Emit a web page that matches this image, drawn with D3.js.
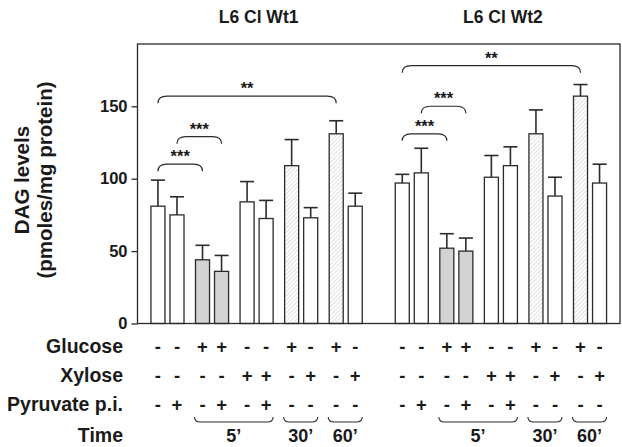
<!DOCTYPE html>
<html>
<head>
<meta charset="utf-8">
<script src="https://cdn.jsdelivr.net/npm/d3@7"></script>
<style>
  body { margin: 0; background: #fff; }
  svg { font-family: "Liberation Sans", Arial, sans-serif; }
</style>
</head>
<body>
<svg id="chart" width="622" height="447"></svg>
<script>
// data
const groups = ["L6 Cl Wt1", "L6 Cl Wt2"];
const glucose  = ["-", "-", "+", "+", "-", "-", "+", "-", "+", "-"];
const xylose   = ["-", "-", "-", "-", "+", "+", "-", "+", "-", "+"];
const pyruvate = ["-", "+", "-", "+", "-", "+", "-", "-", "-", "-"];
const time     = ["0", "0", "5", "5", "5", "5", "30", "30", "60", "60"];
const timeSpans = [
  { label: "5\u2019", from: 2, to: 5 },
  { label: "30\u2019", from: 6, to: 7 },
  { label: "60\u2019", from: 8, to: 9 }
];
const wt1Means = [81, 75, 44, 36, 84, 72.5, 109, 73, 131, 81];
const wt1Sem   = [18, 12.5, 10, 11, 14, 12.5, 18, 7, 9, 9];
const wt2Means = [97, 104, 52, 50, 101, 109, 131, 88, 157, 97];
const wt2Sem   = [6, 17, 10, 9, 15, 13, 16.5, 13, 8, 13];
const yTicks = [0, 50, 100, 150];
// significance brackets: group, bar from, bar to, level (in DAG units)
const sigGroup = [0, 0, 0, 1, 1, 1];
const sigFrom  = [0, 0, 1, 0, 0, 1];
const sigTo    = [8, 2, 3, 8, 2, 3];
const sigLevel = [157, 110, 129, 178, 131, 150];
const sigLabel = ["**", "***", "***", "**", "***", "***"];

const means = [wt1Means, wt2Means];
const sems = [wt1Sem, wt2Sem];

const svg = d3.select("#chart");
const dark = "#2b2b2b";
const ink = "#1a1a1a";

const x0 = 137.5, x1 = 620, yTop = 44, yBot = 323.5;

const y = d3.scaleLinear().domain([0, 193]).range([yBot, yTop]);

const xGroup = d3.scaleBand().domain(groups).range([x0, x1])
  .paddingInner(0.135).paddingOuter(0.055);
const xPair = d3.scaleBand().domain(d3.range(5)).range([0, xGroup.bandwidth()])
  .paddingInner(0.258).paddingOuter(0);
const xBar = d3.scaleBand().domain([0, 1]).range([0, xPair.bandwidth()])
  .paddingInner(0.263).paddingOuter(0);

const barX = (g, i) => xGroup(groups[g]) + xPair(Math.floor(i / 2)) + xBar(i % 2);
const barW = xBar.bandwidth();
const barC = (g, i) => barX(g, i) + barW / 2;

// hatch pattern
const defs = svg.append("defs");
const pat = defs.append("pattern")
  .attr("id", "hatch")
  .attr("patternUnits", "userSpaceOnUse")
  .attr("width", 3).attr("height", 3)
  .attr("patternTransform", "rotate(45)");
pat.append("rect").attr("width", 3).attr("height", 3).attr("fill", "#fff");
pat.append("line").attr("x1", 0).attr("y1", 0).attr("x2", 0).attr("y2", 3)
  .attr("stroke", "#bdbdbd").attr("stroke-width", 0.9);

function fillFor(i) {
  if (glucose[i] === "+" && time[i] === "5") return "#d2d3d5";
  if (glucose[i] === "+") return "url(#hatch)";
  return "#fff";
}

// titles
svg.selectAll("text.title").data(groups).enter().append("text")
  .attr("class", "title")
  .attr("x", d => xGroup(d) + xGroup.bandwidth() / 2 + 2)
  .attr("y", 23)
  .attr("text-anchor", "middle")
  .attr("font-size", 17.5).attr("font-weight", "bold")
  .attr("fill", ink)
  .text(d => d);

// y axis
const yAxis = d3.axisLeft(y).tickValues(yTicks).tickSize(6).tickPadding(4);
const ga = svg.append("g").attr("transform", `translate(${x0},0)`).call(yAxis);
ga.select(".domain").remove();
ga.selectAll("line").attr("stroke", dark).attr("stroke-width", 1.3);
ga.selectAll("text").attr("font-size", 16.5).attr("font-weight", "bold")
  .attr("fill", ink).attr("font-family", "Liberation Sans, Arial, sans-serif");

// y label
svg.append("text")
  .attr("transform", `translate(29,180) rotate(-90)`)
  .attr("text-anchor", "middle")
  .attr("font-size", 20.5).attr("font-weight", "bold").attr("fill", ink)
  .text("DAG levels");
svg.append("text")
  .attr("transform", `translate(52,180) rotate(-90)`)
  .attr("text-anchor", "middle")
  .attr("font-size", 20.5).attr("font-weight", "bold").attr("fill", ink)
  .text("(pmoles/mg protein)");

// bars
groups.forEach((gname, g) => {
  const gg = svg.append("g");
  const rows = means[g].map((m, i) => ({ m, e: sems[g][i], i }));

  gg.selectAll("line.err").data(rows).enter().append("line")
    .attr("x1", d => barC(g, d.i)).attr("x2", d => barC(g, d.i))
    .attr("y1", d => y(d.m)).attr("y2", d => y(d.m + d.e))
    .attr("stroke", dark).attr("stroke-width", 1.6);
  gg.selectAll("line.cap").data(rows).enter().append("line")
    .attr("x1", d => barX(g, d.i)).attr("x2", d => barX(g, d.i) + barW)
    .attr("y1", d => y(d.m + d.e)).attr("y2", d => y(d.m + d.e))
    .attr("stroke", dark).attr("stroke-width", 1.6);

  gg.selectAll("rect").data(rows).enter().append("rect")
    .attr("x", d => barX(g, d.i))
    .attr("y", d => y(d.m))
    .attr("width", barW)
    .attr("height", d => y(0) - y(d.m))
    .attr("fill", d => fillFor(d.i))
    .attr("stroke", dark).attr("stroke-width", 1.3);
});

// frame
svg.append("rect")
  .attr("x", x0).attr("y", yTop)
  .attr("width", x1 - x0).attr("height", yBot - yTop)
  .attr("fill", "none").attr("stroke", dark).attr("stroke-width", 1.3);

// significance brackets
sigLevel.forEach((lv, k) => {
  const g = sigGroup[k];
  const a = barC(g, sigFrom[k]), b = barC(g, sigTo[k]), yy = y(lv);
  svg.append("path")
    .attr("d", `M${a},${yy + 7} Q${a},${yy} ${a + 9},${yy} L${b - 9},${yy} Q${b},${yy} ${b},${yy + 7}`)
    .attr("fill", "none").attr("stroke", dark).attr("stroke-width", 1.2);
  svg.append("text")
    .attr("x", (a + b) / 2).attr("y", yy - 2)
    .attr("text-anchor", "middle")
    .attr("font-size", 16.5).attr("font-weight", "bold").attr("fill", ink)
    .text(sigLabel[k]);
});

// condition table
const rowNames = ["Glucose", "Xylose", "Pyruvate p.i."];
const rowVals = [glucose, xylose, pyruvate];
const rowY = [346, 375, 404];

rowNames.forEach((name, r) => {
  svg.append("text")
    .attr("x", 123).attr("y", rowY[r]).attr("dy", "0.36em")
    .attr("text-anchor", "end")
    .attr("font-size", 19.5).attr("font-weight", "bold").attr("fill", ink)
    .text(name);
  groups.forEach((gname, g) => {
    svg.append("g").selectAll("text").data(rowVals[r]).enter().append("text")
      .attr("x", (d, i) => barC(g, i))
      .attr("y", rowY[r]).attr("dy", "0.36em")
      .attr("text-anchor", "middle")
      .attr("font-size", 18.5).attr("font-weight", "bold").attr("fill", ink)
      .text(d => d);
  });
});

svg.append("text")
  .attr("x", 123).attr("y", 435).attr("dy", "0.36em")
  .attr("text-anchor", "end")
  .attr("font-size", 19.5).attr("font-weight", "bold").attr("fill", ink)
  .text("Time");

groups.forEach((gname, g) => {
  timeSpans.forEach(s => {
    const a = barX(g, s.from) - 1, b = barX(g, s.to) + barW, yy = 422;
    svg.append("path")
      .attr("d", `M${a},${yy - 5} Q${a},${yy} ${a + 6},${yy} L${b - 6},${yy} Q${b},${yy} ${b},${yy - 5}`)
      .attr("fill", "none").attr("stroke", dark).attr("stroke-width", 1.1);
    svg.append("text")
      .attr("x", (a + b) / 2).attr("y", 436).attr("dy", "0.36em")
      .attr("text-anchor", "middle")
      .attr("font-size", 18).attr("font-weight", "bold").attr("fill", ink)
      .text(s.label);
  });
});
</script>
</body>
</html>
